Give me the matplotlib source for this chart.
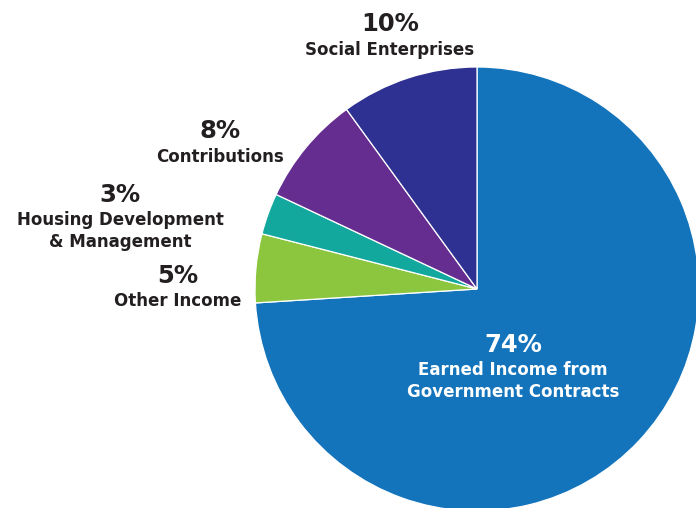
import matplotlib
matplotlib.use("Agg")
import matplotlib.pyplot as plt

categories = ["Earned Income from\nGovernment Contracts", "Other Income",
              "Housing Development\n& Management", "Contributions", "Social Enterprises"]
values = [74, 5, 3, 8, 10]
pct_labels = ["74%", "5%", "3%", "8%", "10%"]
colors = ["#1374BC", "#8CC63F", "#13A89E", "#662D91", "#2E3192"]

W, H = 696, 508
fig = plt.figure(figsize=(W / 100, H / 100), dpi=100)
ax = fig.add_axes([0, 0, 1, 1])
cx, cy, R = 477, 289, 222

ax.pie(values, colors=colors, startangle=90, counterclock=False, radius=1,
       wedgeprops=dict(edgecolor="white", linewidth=0.9))
ax.set_xlim(-cx / R, (W - cx) / R)
ax.set_ylim(-(H - cy) / R, cy / R)
ax.set_aspect("equal")
ax.axis("off")

def px(x, y):
    return (x - cx) / R, (cy - y) / R

# label positions in pixel coords: (pct center, name center)
pos = [((513, 345), (513, 381)),
       ((178, 276), (178, 301)),
       ((120, 195), (120, 231)),
       ((220, 131), (220, 157)),
       ((390, 24), (390, 50))]
fam = ["DejaVu Sans"]
for i, (cat, p) in enumerate(zip(categories, pct_labels)):
    col = "white" if i == 0 else "#231F20"
    (px1, py1), (px2, py2) = pos[i]
    ax.text(*px(px1, py1), p, ha="center", va="center", fontsize=17.5,
            fontweight="heavy", color=col, family=fam)
    ax.text(*px(px2, py2), cat, ha="center", va="center", fontsize=12,
            fontweight="bold", color=col, family=fam, linespacing=1.32)

fig.savefig("out.png", dpi=100)
